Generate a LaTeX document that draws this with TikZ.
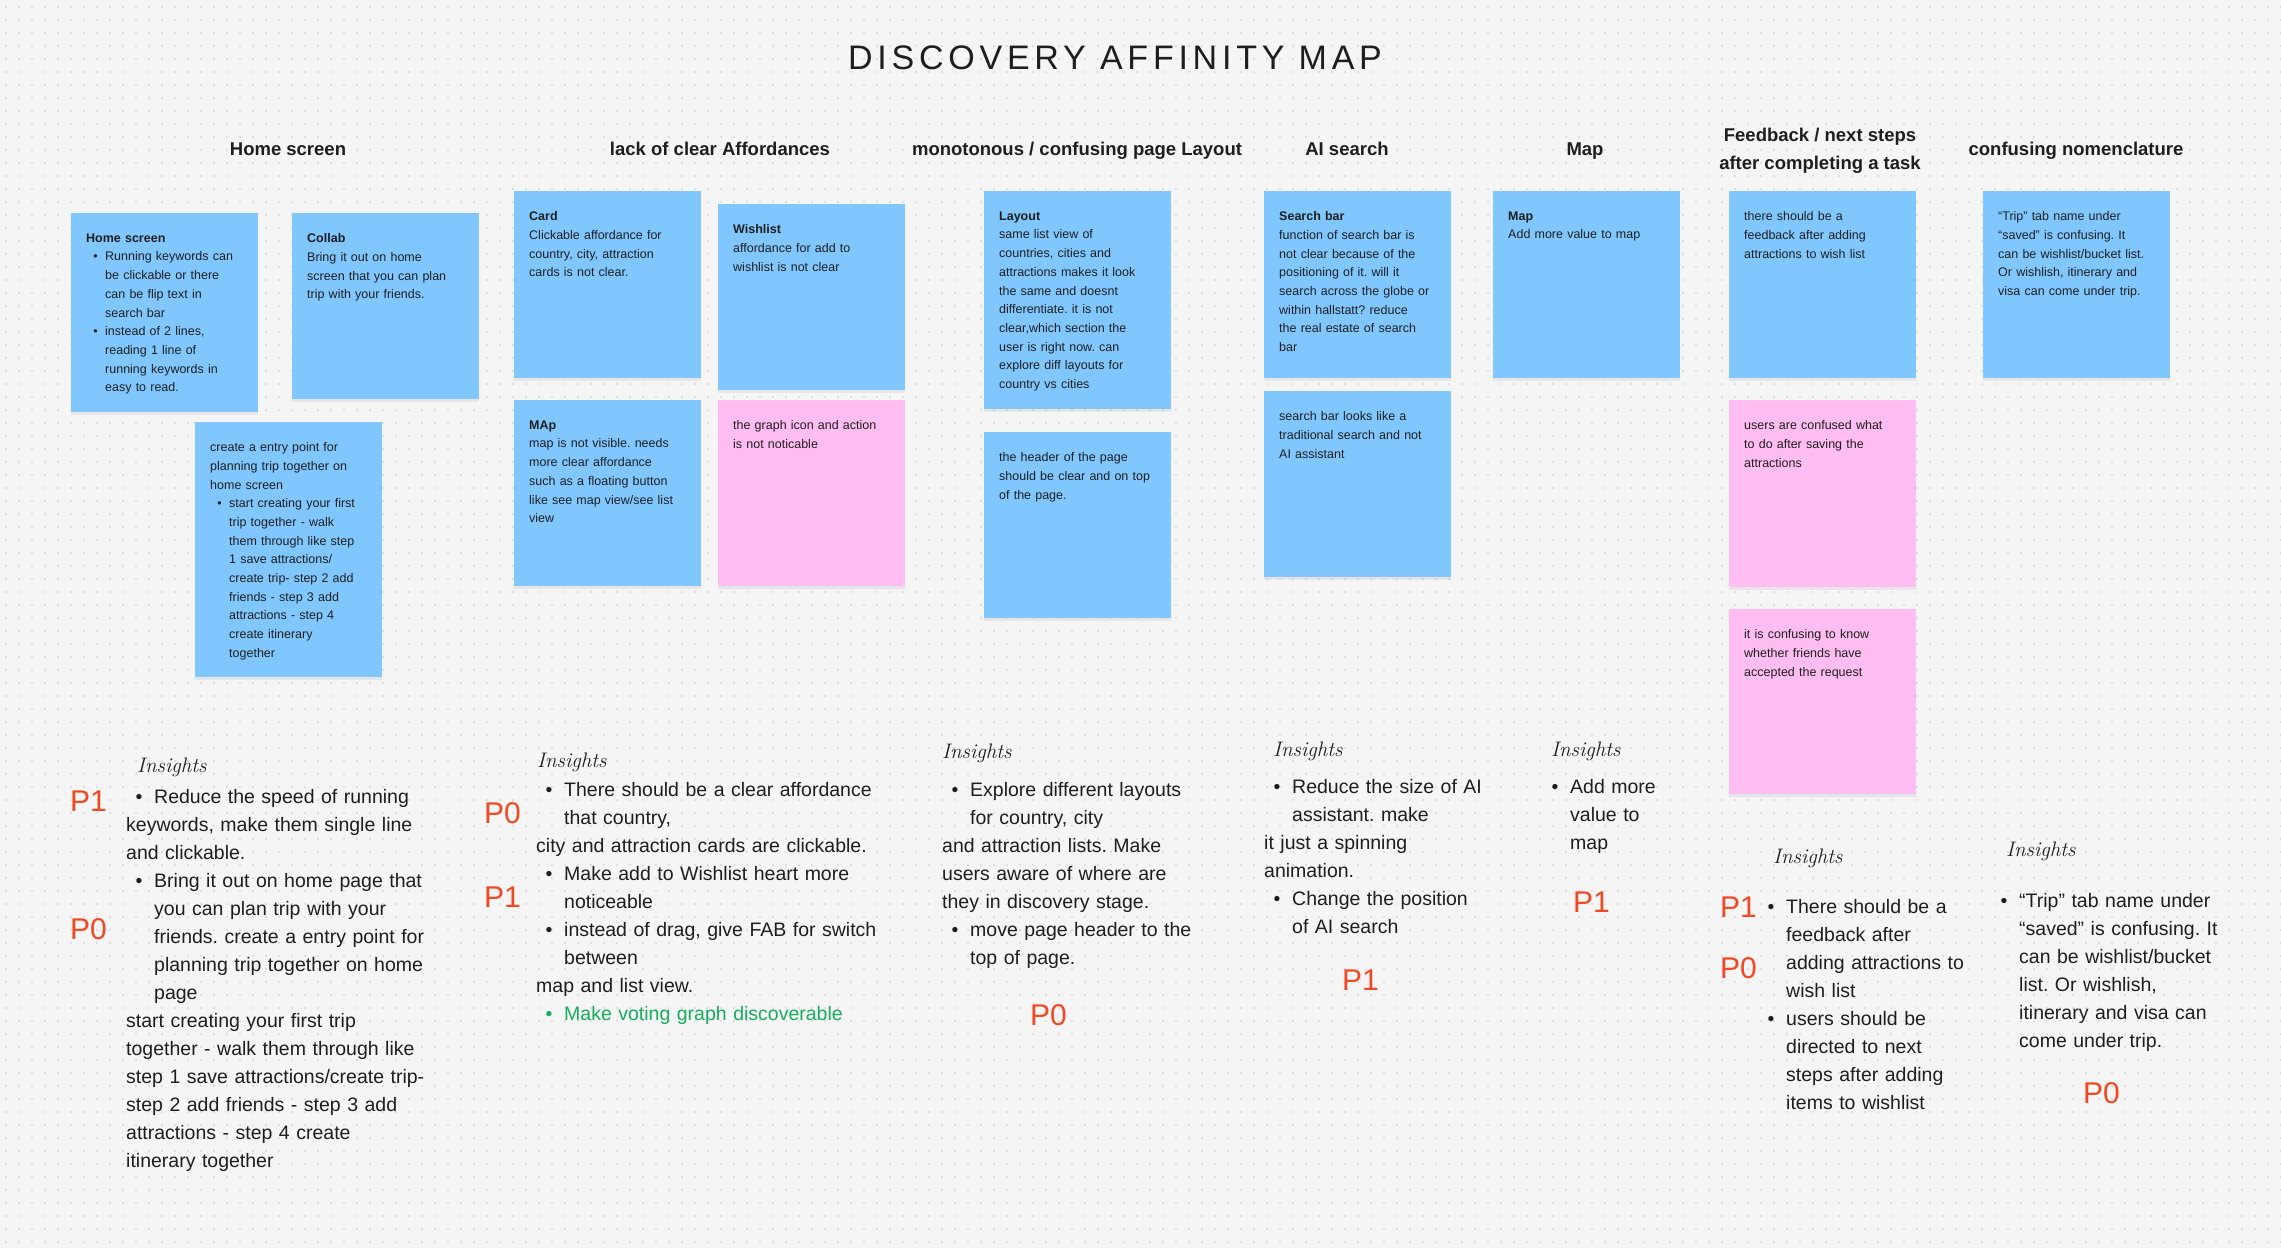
\documentclass[tikz,border=0pt]{standalone}
\usepackage{fontspec}
\setsansfont{Liberation Sans}
\newfontfamily\titlefont[LetterSpace=14]{Liberation Sans}
\usepackage{tikz}
\usetikzlibrary{patterns.meta}
\usetikzlibrary{shadows}
\frenchspacing
\definecolor{stickyblue}{RGB}{128,199,255}
\definecolor{stickypink}{RGB}{255,189,242}
\definecolor{prioRed}{RGB}{242,72,34}
\definecolor{vgreen}{RGB}{20,174,92}
\definecolor{boardbg}{RGB}{245,245,245}
\definecolor{dotgrey}{RGB}{200,200,200}
\definecolor{ink}{RGB}{30,30,30}
\tikzdeclarepattern{
  name=griddots,
  type=colored,
  bottom left={(0pt,0pt)},
  top right={(12.5pt,12.5pt)},
  tile size={(12.5pt,12.5pt)},
  code={\fill[dotgrey] (6.25pt,6.25pt) circle [radius=0.9pt];}
}
\newcommand{\notebul}[1][19pt]{\makebox[#1][r]{\textbullet\hspace{.6em}}}
\newcommand{\noteind}[1][19pt]{\hspace*{#1}}
\newcommand{\insbul}{\notebul[28pt]}
\newcommand{\insind}{\noteind[28pt]}
\newcommand{\stickynote}[6]{\node[sticky,fill=#5,minimum height=#4] (#1) at (#2,#3) {};
  \node[notetext] (#1t) at (#1.north west) {#6};}
\tikzset{
  sticky/.style={rectangle,anchor=north west,inner sep=0pt,minimum width=187pt,
    drop shadow={shadow xshift=0pt,shadow yshift=-3pt,opacity=.12}},
  notetext/.style={anchor=north west,inner sep=0pt,xshift=15pt,yshift=-20.4pt,
    text width=200pt,align=left,text=ink,font=\sffamily\fontsize{12.5}{18.7}\selectfont},
  header/.style={anchor=base,inner sep=0pt,align=center,text=ink,
    font=\sffamily\bfseries\fontsize{18.5}{28}\selectfont},
  insight/.style={anchor=north west,inner sep=0pt,text width=420pt,align=left,text=ink,
    font=\sffamily\fontsize{19.5}{28}\selectfont},
  handtext/.style={anchor=base west,inner sep=0pt,text=ink,font=\rmfamily\itshape\fontsize{21}{21}\selectfont},
  priolabel/.style={anchor=west,inner sep=0pt,text=prioRed,font=\sffamily\fontsize{30}{30}\selectfont},
  titletext/.style={inner sep=0pt,text=ink,font=\titlefont\fontsize{34}{34}\selectfont}
}

\begin{document}
\begin{tikzpicture}[x=1pt,y=-1pt]
        %board
        \useasboundingbox (0,0) rectangle (2281,1248);
        \fill[boardbg] (0,0) rectangle (2281,1248);
        \fill[pattern=griddots] (0,0) rectangle (2281,1248);
        \node[titletext] (title) at (1115,58) {DISCOVERY AFFINITY MAP};
        %headers
        \node[header] (hdrhome) at (288,155) {Home screen};
        \node[header] (hdraff) at (720,155) {lack of clear Affordances};
        \node[header] (hdrlay) at (1077,155) {monotonous / confusing page Layout};
        \node[header] (hdrai) at (1347,155) {AI search};
        \node[header] (hdrmap) at (1585,155) {Map};
        \node[header,anchor=center] (hdrfb) at (1820,151) {Feedback / next steps\\ after completing a task};
        \node[header] (hdrnom) at (2076,155) {confusing nomenclature};
        %stickies
        \stickynote{hsa}{71}{213}{199}{stickyblue}{\textbf{Home screen}\\ \notebul Running keywords can\\ \noteind be clickable or there\\ \noteind can be flip text in\\ \noteind search bar\\ \notebul instead of 2 lines,\\ \noteind reading 1 line of\\ \noteind running keywords in\\ \noteind easy to read.}
        \stickynote{hsb}{292}{213}{186}{stickyblue}{\textbf{Collab}\\ Bring it out on home\\ screen that you can plan\\ trip with your friends.}
        \stickynote{hsc}{195}{422}{255}{stickyblue}{create a entry point for\\ planning trip together on\\ home screen\\ \notebul start creating your first\\ \noteind trip together - walk\\ \noteind them through like step\\ \noteind 1 save attractions/\\ \noteind create trip- step 2 add\\ \noteind friends - step 3 add\\ \noteind attractions - step 4\\ \noteind create itinerary\\ \noteind together}
        \stickynote{afa}{514}{191}{187}{stickyblue}{\textbf{Card}\\ Clickable affordance for\\ country, city, attraction\\ cards is not clear.}
        \stickynote{afb}{718}{204}{186}{stickyblue}{\textbf{Wishlist}\\ affordance for add to\\ wishlist is not clear}
        \stickynote{afc}{514}{400}{186}{stickyblue}{\textbf{MAp}\\ map is not visible. needs\\ more clear affordance\\ such as a floating button\\ like see map view/see list\\ view}
        \stickynote{afd}{718}{400}{186}{stickypink}{the graph icon and action\\ is not noticable}
        \stickynote{lya}{984}{191}{218}{stickyblue}{\textbf{Layout}\\ same list view of\\ countries, cities and\\ attractions makes it look\\ the same and doesnt\\ differentiate. it is not\\ clear,which section the\\ user is right now. can\\ explore diff layouts for\\ country vs cities}
        \stickynote{lyb}{984}{432}{186}{stickyblue}{the header of the page\\ should be clear and on top\\ of the page.}
        \stickynote{aia}{1264}{191}{187}{stickyblue}{\textbf{Search bar}\\ function of search bar is\\ not clear because of the\\ positioning of it. will it\\ search across the globe or\\ within hallstatt? reduce\\ the real estate of search\\ bar}
        \stickynote{aib}{1264}{391}{186}{stickyblue}{search bar looks like a\\ traditional search and not\\ AI assistant}
        \stickynote{mpa}{1493}{191}{187}{stickyblue}{\textbf{Map}\\ Add more value to map}
        \stickynote{fba}{1729}{191}{187}{stickyblue}{there should be a\\ feedback after adding\\ attractions to wish list}
        \stickynote{fbb}{1729}{400}{187}{stickypink}{users are confused what\\ to do after saving the\\ attractions}
        \stickynote{fbc}{1729}{609}{185}{stickypink}{it is confusing to know\\ whether friends have\\ accepted the request}
        \stickynote{nma}{1983}{191}{187}{stickyblue}{“Trip” tab name under\\ “saved” is confusing. It\\ can be wishlist/bucket list.\\ Or wishlish, itinerary and\\ visa can come under trip.}
        %insights
        \node[handtext] (inshome) at (137,772) {Insights};
        \node[handtext] (insaff) at (537,767) {Insights};
        \node[handtext] (inslay) at (942,758) {Insights};
        \node[handtext] (insai) at (1273,756) {Insights};
        \node[handtext] (insmap) at (1551,756) {Insights};
        \node[handtext] (insfb) at (1773,863) {Insights};
        \node[handtext] (insnom) at (2006,856) {Insights};
        \node[insight] (txthome) at (126,788.8) {\insbul Reduce the speed of running\\ keywords, make them single line\\ and clickable.\\ \insbul Bring it out on home page that\\ \insind you can plan trip with your\\ \insind friends. create a entry point for\\ \insind planning trip together on home\\ \insind page\\ start creating your first trip\\ together - walk them through like\\ step 1 save attractions/create trip-\\ step 2 add friends - step 3 add\\ attractions - step 4 create\\ itinerary together};
        \node[insight] (txtaff) at (536,781.8) {\insbul There should be a clear affordance\\ \insind that country,\\ city and attraction cards are clickable.\\ \insbul Make add to Wishlist heart more\\ \insind noticeable\\ \insbul instead of drag, give FAB for switch\\ \insind between\\ map and list view.\\ {\color{vgreen}\insbul Make voting graph discoverable}};
        \node[insight] (txtlay) at (942,781.8) {\insbul Explore different layouts\\ \insind for country, city\\ and attraction lists. Make\\ users aware of where are\\ they in discovery stage.\\ \insbul move page header to the\\ \insind top of page.};
        \node[insight] (txtai) at (1264,778.8) {\insbul Reduce the size of AI\\ \insind assistant. make\\ it just a spinning\\ animation.\\ \insbul Change the position\\ \insind of AI search};
        \node[insight] (txtmap) at (1542,778.8) {\insbul Add more\\ \insind value to\\ \insind map};
        \node[insight] (txtfb) at (1758,898.8) {\insbul There should be a\\ \insind feedback after\\ \insind adding attractions to\\ \insind wish list\\ \insbul users should be\\ \insind directed to next\\ \insind steps after adding\\ \insind items to wishlist};
        \node[insight] (txtnom) at (1991,892.8) {\insbul “Trip” tab name under\\ \insind “saved” is confusing. It\\ \insind can be wishlist/bucket\\ \insind list. Or wishlish,\\ \insind itinerary and visa can\\ \insind come under trip.};
        %priorities
        \node[priolabel] (pahome) at (70,801) {P1};
        \node[priolabel] (pbhome) at (70,929) {P0};
        \node[priolabel] (paaff) at (484,813) {P0};
        \node[priolabel] (pbaff) at (484,897) {P1};
        \node[priolabel] (palay) at (1030,1015) {P0};
        \node[priolabel] (paai) at (1342,980) {P1};
        \node[priolabel] (pamap) at (1573,902) {P1};
        \node[priolabel] (pafb) at (1720,907) {P1};
        \node[priolabel] (pbfb) at (1720,968) {P0};
        \node[priolabel] (panom) at (2083,1093) {P0};
\end{tikzpicture}
\end{document}
